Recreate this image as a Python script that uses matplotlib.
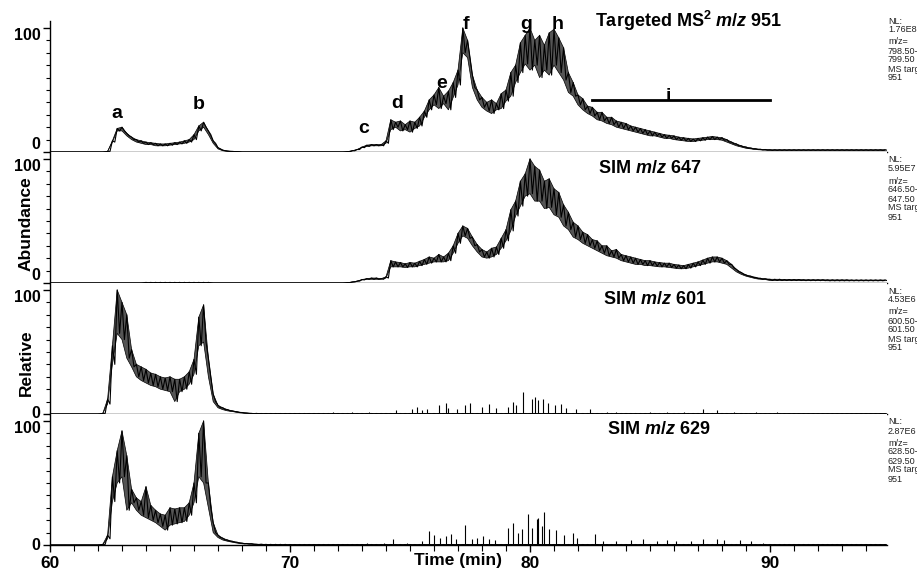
import numpy as np
import matplotlib
matplotlib.use("Agg")
import matplotlib.pyplot as plt
from matplotlib.ticker import MultipleLocator

# ---------------- data ----------------
# scan grid, 0.2 min steps from 60.0 to 94.8 min
time_min = np.round(60.0 + 0.2 * np.arange(175), 1)

# upper / lower envelope of each noisy trace, rows = 2 min
ms2_951_hi = [
    0, 0, 0, 0, 0, 0, 0, 0, 0, 0,                       # 60
    0, 0, 0.5, 9, 19, 20, 15, 12, 10, 9,                # 62
    8, 7.5, 7, 6.5, 6.5, 7, 7.5, 8, 9, 10,              # 64
    14, 21, 24, 17, 9, 3.5, 1.5, 0.8, 0.5, 0.3,         # 66
    0, 0, 0, 0, 0, 0, 0, 0, 0, 0,                       # 68
    0, 0, 0, 0, 0, 0, 0, 0, 0, 0,                       # 70
    0, 0, 0.3, 1, 2, 4, 5.5, 6, 6, 6,                   # 72
    9, 26, 24, 25, 22, 25, 24, 28, 33, 42,              # 74
    46, 52, 45, 49, 56, 66, 100, 90, 62, 50,            # 76
    44, 40, 42, 39, 47, 50, 64, 70, 88, 94,             # 78
    100, 90, 94, 86, 96, 99, 92, 84, 64, 56,            # 80
    46, 43, 37, 36, 32, 32, 28, 28, 25, 24,             # 82
    23, 21, 20, 19, 18, 17, 16, 15, 14, 13.5,           # 84
    13, 12, 11.5, 11, 10.5, 11, 11.5, 12, 12.5, 12,     # 86
    11.5, 10, 8, 6.5, 5, 4, 3.2, 2.6, 2.2, 2,           # 88
    1.8, 1.8, 1.8, 1.8, 1.8, 1.8, 1.8, 1.8, 1.8, 1.8,   # 90
    1.8, 1.8, 1.8, 1.8, 1.8, 1.8, 1.8, 1.8, 1.8, 1.8,   # 92
    1.8, 1.8, 1.8, 1.8, 1.8,                            # 94
]
ms2_951_lo = [
    0, 0, 0, 0, 0, 0, 0, 0, 0, 0,
    0, 0, 0.5, 8, 17, 17, 13, 10, 8, 7,
    6, 6, 5, 5, 5, 5.5, 6, 6.5, 7, 8,
    10, 17, 20, 14, 7, 2.5, 1, 0.5, 0.3, 0.2,
    0, 0, 0, 0, 0, 0, 0, 0, 0, 0,
    0, 0, 0, 0, 0, 0, 0, 0, 0, 0,
    0, 0, 0.3, 1, 2, 3.5, 4.5, 5, 5, 5,
    7, 18, 20, 17, 18, 16, 19, 21, 28, 34,
    38, 35, 39, 34, 44, 54, 80, 76, 52, 42,
    36, 33, 31, 34, 35, 41, 45, 56, 64, 71,
    66, 70, 60, 66, 62, 70, 64, 58, 48, 45,
    38, 34, 31, 29, 26, 25, 23, 22, 20, 19,
    18, 17, 16, 15, 14, 13, 13, 12, 11, 11,
    10, 9.5, 9, 8.5, 8.5, 9, 9.5, 10, 10, 10,
    9.5, 8, 6.5, 5, 4, 3, 2.5, 2, 1.7, 1.5,
    1.3, 1.3, 1.3, 1.3, 1.3, 1.3, 1.3, 1.3, 1.3, 1.3,
    1.3, 1.3, 1.3, 1.3, 1.3, 1.3, 1.3, 1.3, 1.3, 1.3,
    1.3, 1.3, 1.3, 1.3, 1.3,
]

sim_647_hi = [
    0, 0, 0, 0, 0, 0, 0, 0, 0, 0,
    0, 0, 0, 0, 0, 0, 0, 0, 0, 0,
    0.5, 0.5, 0.5, 0.5, 0.5, 0.5, 0.5, 0.5, 0.5, 0.5,
    0.5, 0.5, 0.5, 0.5, 0, 0, 0, 0, 0, 0,
    0, 0, 0, 0, 0, 0, 0, 0, 0, 0,
    0, 0, 0, 0, 0, 0, 0, 0, 0, 0,
    0, 0, 0.3, 0.8, 1.5, 2.8, 3.5, 4, 4, 3.5,
    5, 18, 17, 16.5, 15.5, 16.5, 16, 17.5, 19, 21,
    20, 23, 21, 24, 30, 40, 46, 44, 37, 31,
    27, 25, 28, 29, 36, 43, 59, 66, 82, 88,
    100, 94, 91, 82, 84, 76, 73, 63, 57, 49,
    46, 41, 39, 35, 34, 30, 30, 26, 27, 23,
    22, 21, 20, 19, 18, 18, 17, 16.5, 16, 16,
    15, 14.5, 14, 15, 16, 17, 18.5, 20, 21, 21,
    20, 18, 15, 11, 8.5, 6.5, 5.5, 4.5, 3.8, 3.4,
    3, 3, 3, 2.8, 2.8, 2.8, 2.8, 2.6, 2.6, 2.6,
    2.6, 2.6, 2.5, 2.5, 2.5, 2.5, 2.5, 2.4, 2.4, 2.4,
    2.4, 2.4, 2.4, 2.4, 2.4,
]
sim_647_lo = [
    0, 0, 0, 0, 0, 0, 0, 0, 0, 0,
    0, 0, 0, 0, 0, 0, 0, 0, 0, 0,
    0, 0, 0, 0, 0, 0, 0, 0, 0, 0,
    0, 0, 0, 0, 0, 0, 0, 0, 0, 0,
    0, 0, 0, 0, 0, 0, 0, 0, 0, 0,
    0, 0, 0, 0, 0, 0, 0, 0, 0, 0,
    0, 0, 0.3, 0.8, 1.5, 2.5, 3, 3, 3, 3,
    4, 13, 13, 13, 12.5, 13, 13, 14, 15, 16,
    17, 17, 17, 18, 24, 32, 38, 36, 30, 25,
    21, 20, 21, 23, 28, 34, 42, 54, 62, 70,
    72, 66, 66, 60, 61, 55, 53, 46, 43, 37,
    35, 32, 30, 28, 26, 24, 22, 21, 20, 18,
    17, 16, 15, 15, 14, 14, 13.5, 13, 13, 12.5,
    12, 11.5, 11.5, 12, 13, 14, 15, 16, 17, 17,
    16, 15, 12, 9, 7, 5.5, 4.5, 3.5, 3, 2.8,
    2, 2, 2, 2, 2, 2, 2, 1.9, 1.9, 1.9,
    1.9, 1.9, 1.8, 1.8, 1.8, 1.8, 1.8, 1.8, 1.8, 1.8,
    1.8, 1.8, 1.8, 1.8, 1.8,
]

sim_601_hi = [
    0, 0, 0, 0, 0, 0, 0, 0, 0, 0,
    0, 0.5, 12, 55, 100, 90, 80, 52, 40, 38,
    36, 33, 32, 30, 29, 30, 28, 28, 30, 34,
    44, 78, 88, 45, 16, 7, 5, 3.5, 2.5, 1.8,
    1.2, 0.8, 0.5, 0.5, 0.4, 0.4, 0.4, 0.4, 0.4, 0.4,
] + [0.4] * 95 + [0.3] * 30
sim_601_lo = [
    0, 0, 0, 0, 0, 0, 0, 0, 0, 0,
    0, 0.5, 8, 40, 65, 60, 45, 38, 30, 27,
    25, 23, 22, 20, 19, 18, 10, 18, 20, 24,
    32, 55, 58, 30, 10, 5, 3.5, 2.5, 2, 1.2,
    0.8, 0.5, 0.2, 0.2, 0, 0, 0, 0, 0, 0,
] + [0] * 125

sim_629_hi = [
    0, 0, 0, 0, 0, 0, 0, 0, 0, 0,
    0, 0.5, 8, 55, 76, 92, 72, 45, 38, 35,
    47, 32, 28, 25, 24, 30, 29, 30, 30, 34,
    50, 90, 100, 50, 18, 8, 5.5, 4, 3, 2.2,
    1.5, 1.2, 1, 0.6, 0.6, 0.5, 0.5, 0.5, 0.5, 0.5,
] + [0.4] * 125
sim_629_lo = [
    0, 0, 0, 0, 0, 0, 0, 0, 0, 0,
    0, 0.5, 5, 35, 50, 55, 28, 34, 28, 24,
    22, 20, 18, 15, 12, 16, 17, 18, 19, 24,
    34, 55, 50, 30, 10, 6, 4, 3, 2.2, 1.5,
    1, 0.8, 0.6, 0.3, 0.3, 0.2, 0, 0, 0, 0,
] + [0] * 125

# isolated spikes in the two SIM traces
spike_t_601 = [68.9, 69.5, 70.7, 71.8, 72.6, 73.3, 74.4, 75.1, 75.3, 75.5,
               75.7, 76.2, 76.5, 76.6, 76.95, 77.3, 77.5, 78.0, 78.3, 78.6,
               79.1, 79.3, 79.4, 79.7, 80.07, 80.2, 80.35, 80.56, 80.77, 81.05,
               81.3, 81.5, 81.9, 82.5, 83.2, 83.6, 85.0, 85.7, 86.4, 87.2,
               87.8, 88.5, 89.4, 90.3]
spike_h_601 = [1, 1, 1, 1.5, 1.5, 1.5, 3, 4, 6, 3,
               4, 7, 9, 5, 4, 7, 9, 6, 8, 5,
               6, 10, 7, 18, 12, 14, 11, 12, 9, 7,
               8, 5, 4, 4, 2, 2, 2, 2, 2, 4,
               3, 2, 1.5, 1.5]
spike_t_629 = [69.3, 71.0, 72.3, 73.2, 73.9, 74.3, 74.86, 75.5, 75.8, 76.0,
               76.25, 76.5, 76.7, 76.9, 77.3, 77.6, 77.8, 78.06, 78.3, 78.55,
               79.1, 79.3, 79.5, 79.65, 79.9, 80.07, 80.3, 80.35, 80.5, 80.6,
               80.8, 81.1, 81.4, 81.8, 81.95, 82.7, 83.06, 83.6, 84.2, 84.7,
               85.3, 85.7, 86.1, 86.7, 87.2, 87.8, 88.1, 88.75, 89.2, 89.7]
spike_h_629 = [1, 1, 1, 1.5, 2, 5, 2, 3, 11, 8,
               6, 7, 9, 5, 16, 5, 6, 7, 5, 4,
               14, 18, 10, 13, 25, 14, 21, 22, 15, 27,
               13, 12, 8, 10, 6, 9, 3, 3, 4, 5,
               3, 4, 3, 3, 5, 5, 4, 4, 3, 2]

# peak letters on the MS2 trace
peak_names = ["a", "b", "c", "d", "e", "f", "g", "h"]
peak_t = [62.8, 66.2, 73.05, 74.45, 76.3, 77.35, 79.85, 81.15]
peak_y = [27.5, 34.5, 15.5, 35.5, 51.5, 99, 99, 99]
region_i = (82.6, 90.0, 42)   # start, end, level

titles = [r"Targeted MS$^2$ $m/z$ 951", r"SIM $m/z$ 647", r"SIM $m/z$ 601", r"SIM $m/z$ 629"]
nl_values = ["1.76E8", "5.95E7", "4.53E6", "2.87E6"]
mz_ranges = [("798.50-", "799.50"), ("646.50-", "647.50"),
             ("600.50-", "601.50"), ("628.50-", "629.50")]

# ---------------- style ----------------
plt.rcParams["font.family"] = ["Liberation Sans", "DejaVu Sans"]
plt.rcParams["font.weight"] = "bold"
plt.rcParams["mathtext.fontset"] = "custom"
plt.rcParams["mathtext.rm"] = "Liberation Sans:bold"
plt.rcParams["mathtext.it"] = "Liberation Sans:italic:bold"
plt.rcParams["mathtext.bf"] = "Liberation Sans:bold"

W, H = 917, 571
fig = plt.figure(figsize=(W / 100, H / 100), dpi=100)

base_px = [152, 283, 414, 545]      # pixel row of the zero line of each panel
title_px = [(595, 21), (598, 169), (603, 300), (607, 430)]
nl_top_px = [21, 160, 291, 422]
zero_va = ["bottom", "bottom", "center", "center"]

traces = [(ms2_951_lo, ms2_951_hi), (sim_647_lo, sim_647_hi),
          (sim_601_lo, sim_601_hi), (sim_629_lo, sim_629_hi)]
spikes = [None, None, (spike_t_601, spike_h_601), (spike_t_629, spike_h_629)]


def draw_trace(ax, lo, hi):
    # grey band between the envelopes, black zigzag on top for the scan noise
    ax.fill_between(time_min, lo, hi, facecolor="#555555", edgecolor="none")
    x = np.empty(2 * len(time_min))
    y = np.empty(2 * len(time_min))
    x[0::2] = time_min
    x[1::2] = time_min + 0.1
    y[0::2] = hi
    y[1::2] = lo
    ax.plot(x, y, color="black", lw=0.8)
    ax.plot(time_min, hi, color="black", lw=0.5)
    ax.plot(time_min, lo, color="black", lw=0.5)


axes = []
for k in range(4):
    ax = fig.add_axes([50 / W, (H - base_px[k]) / H, 837 / W, 131.5 / H])
    ax.set_xlim(60, 94.875)
    ax.set_ylim(0, 106)
    lo, hi = traces[k]
    draw_trace(ax, lo, hi)
    if spikes[k] is not None:
        ax.vlines(spikes[k][0], 0, spikes[k][1], color="black", lw=0.8)

    for side in ["top", "right"]:
        ax.spines[side].set_visible(False)
    ax.spines["left"].set_linewidth(1.0)
    ax.spines["bottom"].set_linewidth(1.0)

    ax.set_yticks([0, 100])
    ax.yaxis.set_minor_locator(MultipleLocator(10))
    ax.tick_params(axis="y", which="major", length=5, width=1, labelsize=11.5, pad=2)
    ax.tick_params(axis="y", which="minor", length=3, width=0.8)
    yt = ax.yaxis.get_major_ticks()
    yt[0].label1.set_va(zero_va[k])
    yt[1].label1.set_va("top")

    if k < 3:
        ax.tick_params(axis="x", which="both", bottom=False, labelbottom=False)
    else:
        ax.set_xticks([60, 70, 80, 90])
        ax.xaxis.set_minor_locator(MultipleLocator(1))
        ax.tick_params(axis="x", which="major", length=5, width=1, labelsize=12.5, pad=3)
        ax.tick_params(axis="x", which="minor", length=4, width=0.8)

    fig.text(title_px[k][0] / W, 1 - title_px[k][1] / H, titles[k],
             fontsize=13, ha="left", va="center")

    # instrument info at the right edge (clipped by the figure border)
    lines = ["NL:", nl_values[k], "m/z=", mz_ranges[k][0], mz_ranges[k][1], "MS target", "951"]
    offs = [0, 9, 21, 30, 39, 48, 57]
    for txt, off in zip(lines, offs):
        fig.text(888 / W, 1 - (nl_top_px[k] + off) / H, txt, fontsize=6.5,
                 fontweight="normal", color="#222222", ha="left", va="center")
    axes.append(ax)

# peak labels on the top trace
ax0 = axes[0]
for name, t, y in zip(peak_names, peak_t, peak_y):
    ax0.text(t, y, name, fontsize=14, ha="center", va="baseline", clip_on=False)
ax0.plot([region_i[0], region_i[1]], [region_i[2], region_i[2]], color="black", lw=2)
ax0.text((region_i[0] + region_i[1]) / 2 - 0.55, region_i[2] - 1, "i", fontsize=14,
         ha="center", va="baseline")

fig.text(26 / W, 1 - 224 / H, "Abundance", rotation=90, fontsize=12.5, ha="center", va="center")
fig.text(26 / W, 1 - 363 / H, "Relative", rotation=90, fontsize=12.5, ha="center", va="center")
fig.text(458 / W, 1 - 561 / H, "Time (min)", fontsize=12.5, ha="center", va="center")

fig.savefig("out.png", dpi=100)
